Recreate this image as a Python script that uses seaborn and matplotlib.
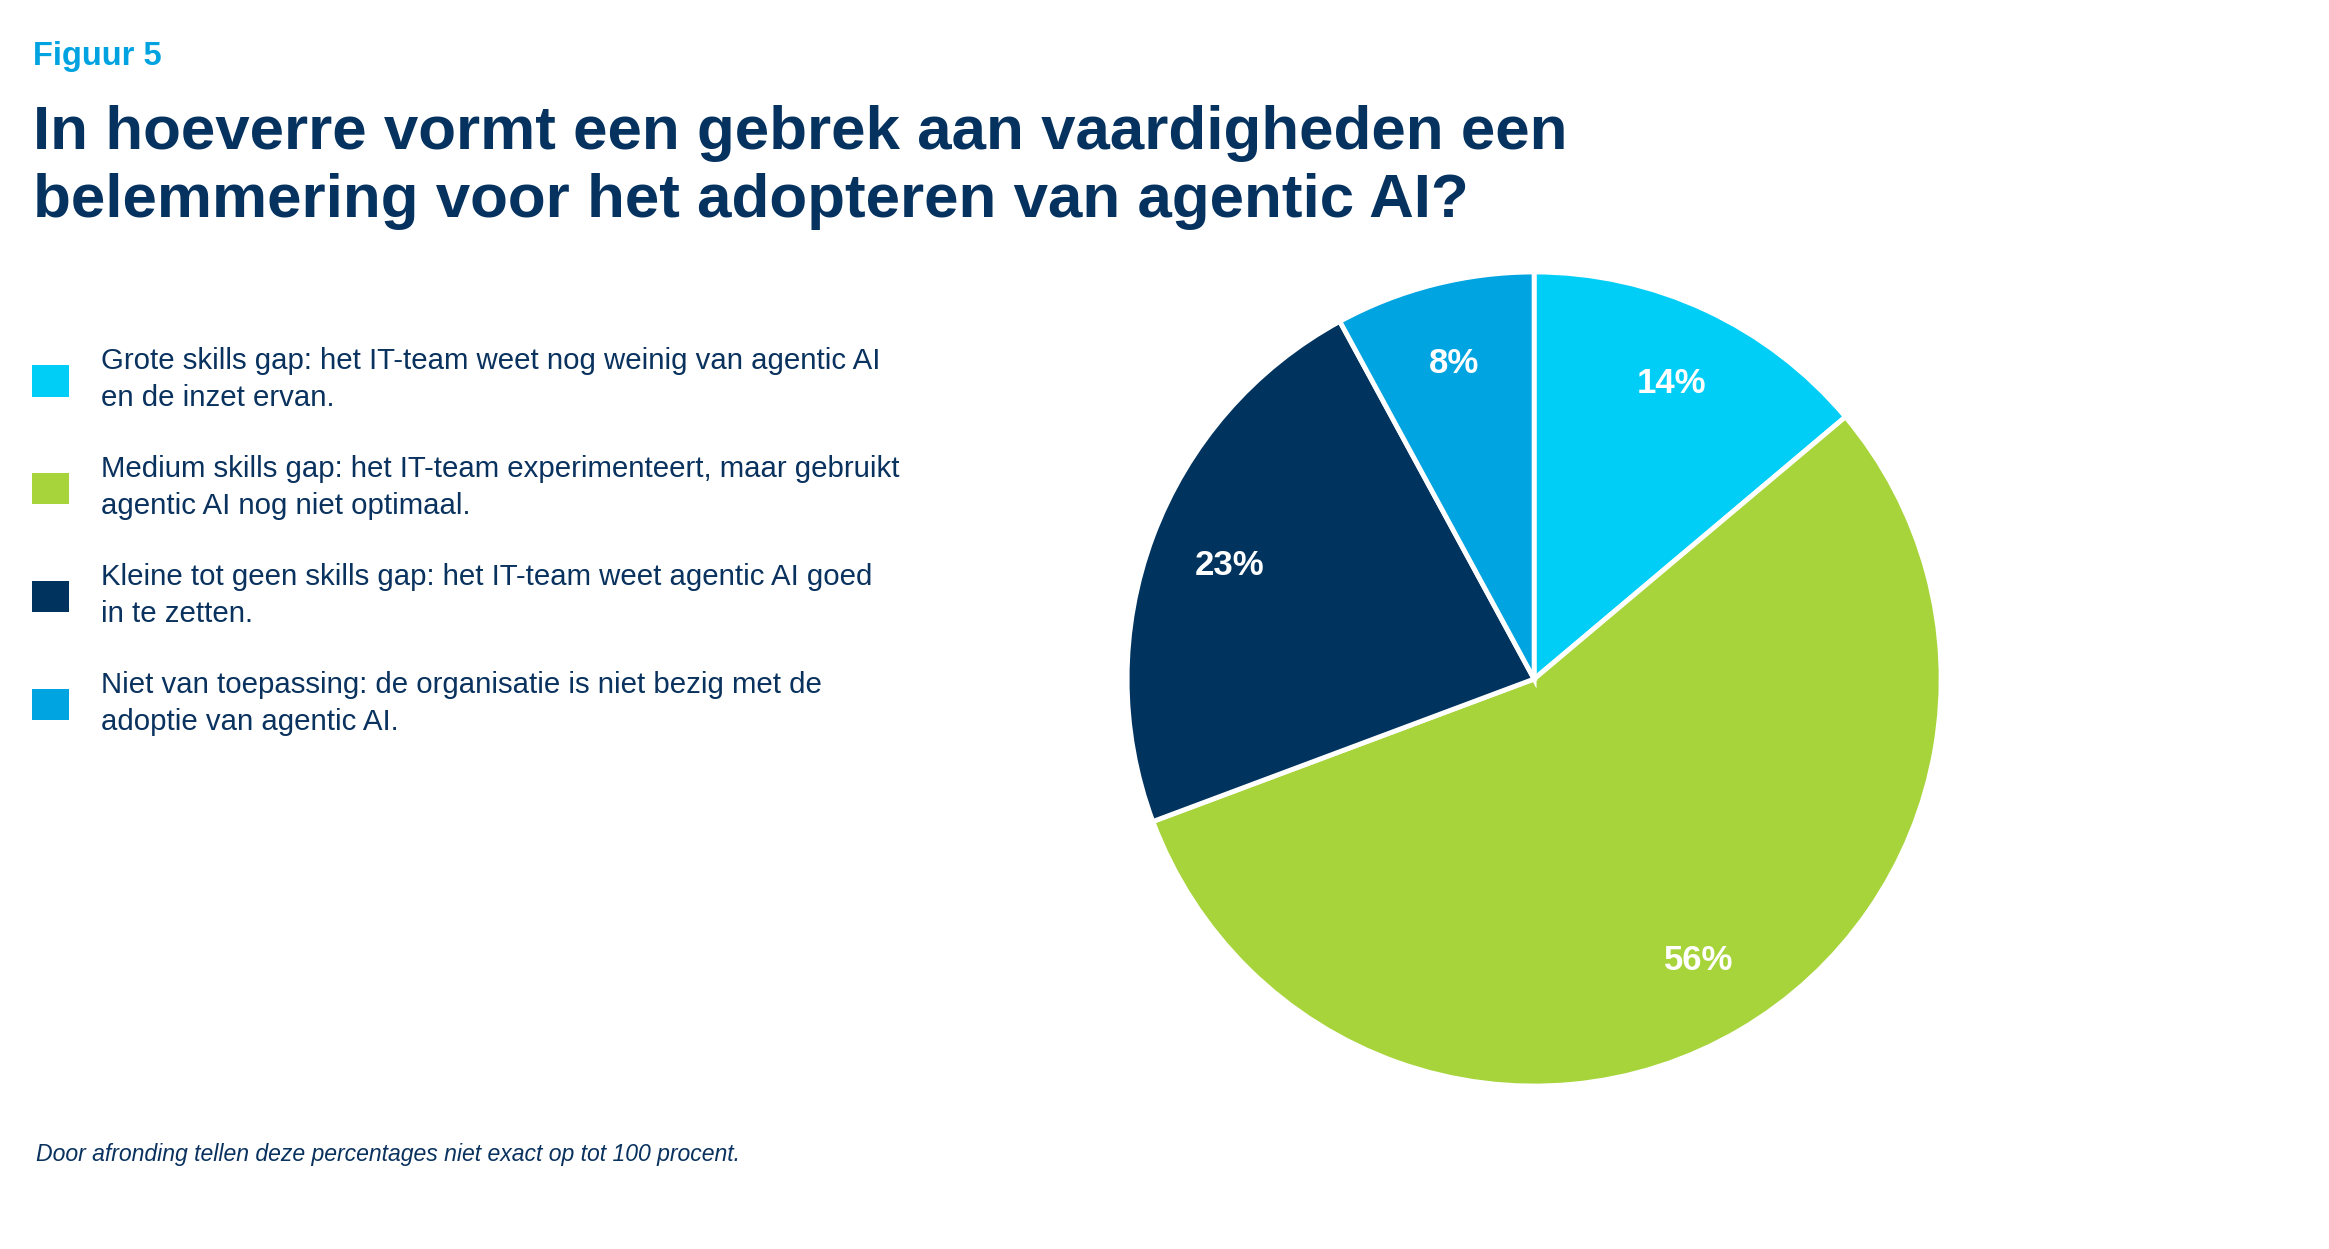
import matplotlib
matplotlib.use("Agg")
import matplotlib.pyplot as plt
import seaborn as sns
from matplotlib.patches import Patch

# data (clockwise from 12 o'clock)
labels = [
    "Grote skills gap: het IT-team weet nog weinig van agentic AI\nen de inzet ervan.",
    "Medium skills gap: het IT-team experimenteert, maar gebruikt\nagentic AI nog niet optimaal.",
    "Kleine tot geen skills gap: het IT-team weet agentic AI goed\nin te zetten.",
    "Niet van toepassing: de organisatie is niet bezig met de\nadoptie van agentic AI.",
]
shares = [14, 56, 23, 8]
colors = ["#00CEF6", "#A7D43B", "#00345F", "#00A4E0"]

navy = "#0A325E"

sns.set_theme(style="white")
plt.rcParams["font.family"] = ["Liberation Sans", "DejaVu Sans"]
palette = sns.color_palette(colors)

fig = plt.figure(figsize=(23.29, 12.49), dpi=100)
fig.patch.set_facecolor("white")

# pie axes: square, centred at about (1534, 679) px
ax = fig.add_axes([0.4848, 0.1321, 0.3478, 0.6485])
wedges, texts = ax.pie(
    shares,
    colors=palette,
    startangle=90,
    counterclock=False,
    labels=[f"{v}%" for v in shares],
    labeldistance=0.8,
    wedgeprops=dict(edgecolor="white", linewidth=3.5),
    textprops=dict(color="white", fontsize=25, fontweight="bold"),
)
for t in texts:
    t.set_horizontalalignment("center")
    t.set_verticalalignment("center")
ax.set_xlim(-0.995, 0.995)
ax.set_ylim(-0.995, 0.995)
ax.set_aspect("equal")
ax.axis("off")

fig.text(0.0142, 0.955, "Figuur 5", fontsize=23.5, fontweight="bold",
         color="#00A3E0", ha="left", va="center")
fig.text(0.0142, 0.916,
         "In hoeverre vormt een gebrek aan vaardigheden een\n"
         "belemmering voor het adopteren van agentic AI?",
         fontsize=44.6, fontweight="bold", color="#06325F",
         ha="left", va="top", linespacing=1.26)

handles = [Patch(facecolor=c, edgecolor="none") for c in palette]
leg = fig.legend(
    handles, labels,
    loc="upper left", bbox_to_anchor=(0.0138, 0.722),
    frameon=False, fontsize=21.2,
    handlelength=1.25, handleheight=1.25, handletextpad=1.1,
    labelspacing=1.45, borderaxespad=0, borderpad=0,
)
for t in leg.get_texts():
    t.set_color(navy)
    t.set_linespacing(1.42)

fig.text(0.0155, 0.076,
         "Door afronding tellen deze percentages niet exact op tot 100 procent.",
         fontsize=16.6, fontstyle="italic", color=navy, ha="left", va="center")

fig.savefig("out.png", dpi=100, facecolor="white")
